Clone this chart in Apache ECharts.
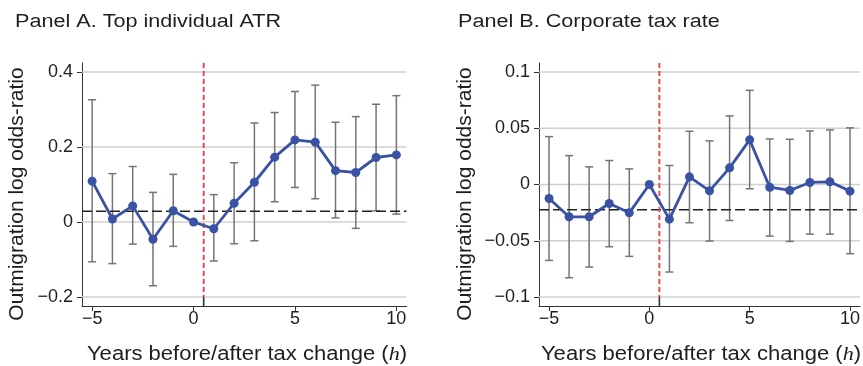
<!DOCTYPE html>
<html>
<head>
<meta charset="utf-8">
<script src="https://cdn.jsdelivr.net/npm/echarts@6/dist/echarts.min.js"></script>
<style>
html,body{margin:0;padding:0;background:#fff;}
#chart{width:863px;height:366px;}
</style>
</head>
<body>
<div id="chart"></div>
<script>
// ---- data ----
const years = [-5,-4,-3,-2,-1,0,1,2,3,4,5,6,7,8,9,10];

const coefA = [0.109, 0.008, 0.043, -0.046, 0.030, 0, -0.018, 0.050, 0.106, 0.173, 0.219, 0.213, 0.137, 0.132, 0.172, 0.179];
const loA   = [-0.106, -0.111, -0.059, -0.170, -0.065, null, -0.104, -0.058, -0.050, 0.054, 0.092, 0.062, 0.011, -0.017, 0.030, 0.021];
const hiA   = [0.326, 0.129, 0.148, 0.079, 0.127, null, 0.073, 0.158, 0.264, 0.292, 0.348, 0.365, 0.266, 0.281, 0.314, 0.337];

const coefB = [-0.0124, -0.0287, -0.0287, -0.0169, -0.0252, 0, -0.0308, 0.0068, -0.0056, 0.0148, 0.0397, -0.0024, -0.0053, 0.0018, 0.0024, -0.0059];
const loB   = [-0.0675, -0.0829, -0.0734, -0.0553, -0.0639, null, -0.0778, -0.0340, -0.0503, -0.0320, -0.0038, -0.0459, -0.0506, -0.0441, -0.0441, -0.0615];
const hiB   = [0.0426, 0.0257, 0.0157, 0.0213, 0.0139, null, 0.0169, 0.0473, 0.0388, 0.0610, 0.0837, 0.0405, 0.0402, 0.0476, 0.0485, 0.0503];

const preMeanA = 0.029;     // dashed black horizontal line
const preMeanB = -0.0225;
const eventLine = 0.5;      // red dashed vertical line

const xTicks  = [-5, 0, 5, 10];
const yTicksA = [-0.2, 0, 0.2, 0.4];
const yTicksB = [-0.1, -0.05, 0, 0.05, 0.1];

const titles = ['Panel A. Top individual ATR', 'Panel B. Corporate tax rate'];
const yName = 'Outmigration log odds-ratio';
const xNameRich = '{a|Years before/after tax change (}{h|h}{a|)}';

// ---- styling ----
const FONT = "'Liberation Sans', Arial, Helvetica, sans-serif";
const SERIF = "'Liberation Serif', 'DejaVu Serif', serif";
const TXT = '#1e1e1e';
const BLUE = '#3a52a3';
const XMIN = -5.5, XMAX = 10.5;
const ranges = [[-0.224, 0.424], [-0.108, 0.108]];

function fmt(v){ return v < 0 ? '\u2212' + String(Math.abs(v)) : String(v); }

const chart = echarts.init(document.getElementById('chart'), null, {renderer:'canvas'});

const grids = [
  {left: 82, top: 63, width: 324.5, height: 243},
  {left: 539, top: 63, width: 324.5, height: 243}
];

function xAxisDef(i){
  return {
    type:'value', gridIndex:i, min:XMIN, max:XMAX,
    axisLine:{show:true, onZero:false, lineStyle:{color:'#333', width:1}},
    axisTick:{show:true, length:5, customValues:xTicks, lineStyle:{color:'#333'}},
    axisLabel:{customValues:xTicks, formatter:fmt, fontSize:18, color:TXT, fontFamily:FONT, margin:4},
    splitLine:{show:false}
  };
}
function yAxisDef(i, ticks){
  return {
    type:'value', gridIndex:i, min:ranges[i][0], max:ranges[i][1],
    axisLine:{show:true, onZero:false, lineStyle:{color:'#333', width:1}},
    axisTick:{show:true, length:5, customValues:ticks, lineStyle:{color:'#333'}},
    axisLabel:{customValues:ticks, formatter:fmt, fontSize:18, color:TXT, fontFamily:FONT, margin:9},
    splitLine:{show:false}
  };
}

function gridSeries(i, ticks){
  return {
    type:'custom', xAxisIndex:i, yAxisIndex:i, z:1, silent:true,
    data: ticks.map(v => [v]),
    renderItem: function(params, api){
      const v = api.value(0);
      const p1 = api.coord([XMIN, v]), p2 = api.coord([XMAX, v]);
      return {type:'line', shape:{x1:p1[0], y1:p1[1], x2:p2[0], y2:p2[1]},
        style:{stroke:'#d0d0d0', lineWidth:1.3}};
    }
  };
}

function errSeries(i, lo, hi){
  const d = [];
  years.forEach((h, k) => { if (lo[k] !== null) d.push([h, lo[k], hi[k]]); });
  return {
    type:'custom', xAxisIndex:i, yAxisIndex:i, z:2, silent:true, data:d,
    renderItem: function(params, api){
      const x = api.value(0);
      const a = api.coord([x, api.value(1)]), b = api.coord([x, api.value(2)]);
      const w = 4, st = {stroke:'#747474', lineWidth:1.5};
      return {type:'group', children:[
        {type:'line', shape:{x1:a[0], y1:a[1], x2:b[0], y2:b[1]}, style:st},
        {type:'line', shape:{x1:a[0]-w, y1:a[1], x2:a[0]+w, y2:a[1]}, style:st},
        {type:'line', shape:{x1:b[0]-w, y1:b[1], x2:b[0]+w, y2:b[1]}, style:st}
      ]};
    }
  };
}

function refSeries(i, mean, bottomTick){
  return {
    type:'custom', xAxisIndex:i, yAxisIndex:i, z:3, silent:true,
    data:[[eventLine, mean]],
    renderItem: function(params, api){
      const ev = api.value(0), m = api.value(1);
      const h1 = api.coord([XMIN, m]), h2 = api.coord([XMAX, m]);
      const vTop = api.coord([ev, ranges[i][1]]);
      const vMid = api.coord([ev, bottomTick]);
      const vBot = api.coord([ev, ranges[i][0]]);
      return {type:'group', children:[
        {type:'line', shape:{x1:h1[0], y1:h1[1], x2:h2[0], y2:h2[1]},
          style:{stroke:'#222', lineWidth:1.5, lineDash:[10,4]}},
        {type:'line', shape:{x1:vTop[0], y1:vTop[1], x2:vMid[0], y2:vMid[1]},
          style:{stroke:'#e8424e', lineWidth:1.9, lineDash:[5,3]}},
        {type:'line', shape:{x1:vMid[0], y1:vMid[1], x2:vBot[0], y2:vBot[1]},
          style:{stroke:'#333', lineWidth:1.6}}
      ]};
    }
  };
}

function lineSeries(i, coef){
  return {
    type:'line', xAxisIndex:i, yAxisIndex:i, z:5, silent:true,
    data: years.map((h, k) => [h, coef[k]]),
    symbol:'circle', symbolSize:9, showSymbol:true,
    lineStyle:{color:BLUE, width:2.8},
    itemStyle:{color:BLUE},
    animation:false
  };
}

function titleText(text, x){
  return {type:'text', x:x, y:22, scaleX:1.2, silent:true,
    style:{text:text, fill:TXT, font:'18px ' + FONT, textAlign:'left', textVerticalAlign:'middle'}};
}
function yNameText(x){
  return {type:'text', x:x, y:194, rotation:Math.PI/2, silent:true,
    style:{text:yName, fill:TXT, font:'21px ' + FONT, textAlign:'center', textVerticalAlign:'middle'}};
}
function xNameText(x){
  return {type:'text', x:x, y:355, scaleX:1.13, silent:true,
    style:{text:xNameRich, textAlign:'center', textVerticalAlign:'middle',
      rich:{a:{fontSize:19.5, fontFamily:FONT, fill:TXT, color:TXT},
            h:{fontSize:19.5, fontFamily:SERIF, fontStyle:'italic', color:TXT, fill:TXT}}}};
}

const option = {
  animation:false,
  backgroundColor:'#fff',
  textStyle:{fontFamily:FONT},
  grid: grids,
  xAxis: [xAxisDef(0), xAxisDef(1)],
  yAxis: [yAxisDef(0, yTicksA), yAxisDef(1, yTicksB)],
  graphic: [
    titleText(titles[0], 15), titleText(titles[1], 458),
    yNameText(17.5), yNameText(465),
    xNameText(247), xNameText(701)
  ],
  series: [
    gridSeries(0, yTicksA), errSeries(0, loA, hiA), refSeries(0, preMeanA, yTicksA[0]), lineSeries(0, coefA),
    gridSeries(1, yTicksB), errSeries(1, loB, hiB), refSeries(1, preMeanB, yTicksB[0]), lineSeries(1, coefB)
  ]
};
chart.setOption(option);
</script>
</body>
</html>
